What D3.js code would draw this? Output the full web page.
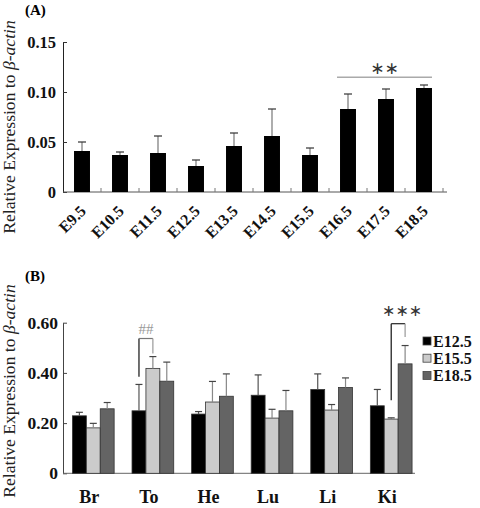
<!DOCTYPE html>
<html><head><meta charset="utf-8">
<script src="https://cdn.jsdelivr.net/npm/d3@7"></script>
<style>
body{margin:0;background:#fff;}
svg{display:block;font-family:"Liberation Serif","Times New Roman",serif;}
</style></head>
<body>
<svg id="c" width="480" height="508"></svg>
<script>
// ---------- Panel A data ----------
const stagesA = ["E9.5","E10.5","E11.5","E12.5","E13.5","E14.5","E15.5","E16.5","E17.5","E18.5"];
const valuesA = [0.041,0.037,0.039,0.026,0.046,0.056,0.037,0.083,0.093,0.104];
const errorsA = [0.009,0.003,0.017,0.006,0.013,0.027,0.007,0.015,0.010,0.003];
const ticksA = [0,0.05,0.10,0.15];
const tickLabelsA = ["0","0.05","0.10","0.15"];
const sigA = {from:"E16.5", to:"E18.5", level:0.1147, label:"\u2217\u2217"};

// ---------- Panel B data ----------
const tissuesB = ["Br","To","He","Lu","Li","Ki"];
const seriesB = ["E12.5","E15.5","E18.5"];
const valuesE125 = [0.229,0.249,0.236,0.311,0.334,0.269];
const errorsE125 = [0.014,0.105,0.010,0.081,0.062,0.065];
const valuesE155 = [0.181,0.418,0.284,0.220,0.252,0.216];
const errorsE155 = [0.018,0.047,0.082,0.035,0.022,0.005];
const valuesE185 = [0.257,0.367,0.307,0.249,0.342,0.436];
const errorsE185 = [0.025,0.076,0.089,0.081,0.038,0.073];
const ticksB = [0,0.2,0.4,0.6];
const tickLabelsB = ["0","0.20","0.40","0.60"];
const bracketsB = [
  {group:"To", left:"E12.5", right:"E15.5", top:0.537, leftEnd:0.385, rightEnd:0.477, label:"##"},
  {group:"Ki", left:"E15.5", right:"E18.5", top:0.596, leftEnd:0.291, rightEnd:0.543, label:"\u2217\u2217\u2217"}
];

const colors = {"E12.5":"#000000","E15.5":"#cbcbcb","E18.5":"#646464"};
const svg = d3.select("#c");

function yTitle(g, cx, cy){
  const t = g.append("text").attr("transform",`translate(${cx},${cy}) rotate(-90)`)
    .attr("text-anchor","middle").attr("font-size",17.6).attr("fill","#222");
  t.append("tspan").text("Relative Expression to ");
  t.append("tspan").attr("font-style","italic").text("\u03b2-actin");
}

// ================= Panel A =================
{
  const x = d3.scaleBand().domain(stagesA).range([63,443]).paddingInner(0.58).paddingOuter(0.29);
  const y = d3.scaleLinear().domain([0,0.15]).range([192,42]);
  const g = svg.append("g");

  g.append("text").attr("x",25).attr("y",15).attr("font-size",15).attr("font-weight","bold").text("(A)");
  yTitle(g, 15, 127);

  // y axis
  const ya = d3.axisLeft(y).tickValues(ticksA).tickFormat((d,i)=>tickLabelsA[i]).tickSizeInner(-4).tickSizeOuter(0).tickPadding(7);
  const yg = g.append("g").attr("transform","translate(63,0)").call(ya);
  yg.select(".domain").attr("stroke","#222");
  yg.selectAll(".tick line").attr("stroke","#333");
  yg.selectAll("text").attr("font-size",16.5).attr("font-weight","bold").attr("font-family","Liberation Serif").attr("fill","#111");

  // x axis
  const xa = d3.axisBottom(x).tickSize(0).tickFormat("");
  const xg = g.append("g").attr("transform","translate(0,192)").call(xa);
  xg.select(".domain").attr("d","M63,0H447").attr("stroke","#555");
  const step = x.step(), gap = (step - x.bandwidth())/2;
  g.selectAll(".btick").data(stagesA).join("line")
    .attr("x1",d=>x(d)-gap+step).attr("x2",d=>x(d)-gap+step)
    .attr("y1",192).attr("y2",188).attr("stroke","#777");
  g.selectAll(".xl").data(stagesA).join("text")
    .attr("transform",d=>`translate(${x(d)+x.bandwidth()/2+5},212) rotate(-45)`)
    .attr("text-anchor","end").attr("font-size",16).attr("font-weight","bold").attr("fill","#111")
    .text(d=>d);

  // bars
  g.selectAll(".bar").data(stagesA).join("rect")
    .attr("x",d=>x(d)).attr("width",x.bandwidth())
    .attr("y",(d,i)=>y(valuesA[i])).attr("height",(d,i)=>192-y(valuesA[i])).attr("fill","#000");
  // error bars
  const cx = d=>x(d)+x.bandwidth()/2;
  g.selectAll(".el").data(stagesA).join("line")
    .attr("x1",cx).attr("x2",cx).attr("y1",(d,i)=>y(valuesA[i])).attr("y2",(d,i)=>y(valuesA[i]+errorsA[i]))
    .attr("stroke","#777").attr("stroke-width",1.2);
  g.selectAll(".ec").data(stagesA).join("line")
    .attr("x1",d=>cx(d)-4).attr("x2",d=>cx(d)+4).attr("y1",(d,i)=>y(valuesA[i]+errorsA[i])).attr("y2",(d,i)=>y(valuesA[i]+errorsA[i]))
    .attr("stroke","#333").attr("stroke-width",1.2);

  // significance
  const sx1 = x(sigA.from)-3, sx2 = x(sigA.to)+x.bandwidth();
  g.append("line").attr("x1",sx1).attr("x2",sx2).attr("y1",y(sigA.level)).attr("y2",y(sigA.level))
    .attr("stroke","#aaa").attr("stroke-width",1.5);
  g.append("text").attr("x",(sx1+sx2)/2).attr("y",y(sigA.level)-3).attr("text-anchor","middle")
    .attr("font-family","DejaVu Sans").attr("font-size",17).attr("fill","#333").text(sigA.label);
}

// ================= Panel B =================
{
  const x0 = d3.scaleBand().domain(tissuesB).range([63.5,421]).paddingInner(0.3).paddingOuter(0.15);
  const x1 = d3.scaleBand().domain(seriesB).range([0,x0.bandwidth()]);
  const y = d3.scaleLinear().domain([0,0.6]).range([473.3,322.7]);
  const g = svg.append("g");
  const vals = {"E12.5":valuesE125,"E15.5":valuesE155,"E18.5":valuesE185};
  const errs = {"E12.5":errorsE125,"E15.5":errorsE155,"E18.5":errorsE185};

  g.append("text").attr("x",25).attr("y",281).attr("font-size",15).attr("font-weight","bold").text("(B)");
  yTitle(g, 15, 391);

  const ya = d3.axisLeft(y).tickValues(ticksB).tickFormat((d,i)=>tickLabelsB[i]).tickSizeInner(-4).tickSizeOuter(0).tickPadding(5);
  const yg = g.append("g").attr("transform","translate(63,0)").call(ya);
  yg.select(".domain").attr("stroke","#444");
  yg.selectAll(".tick line").attr("stroke","#444");
  yg.selectAll("text").attr("font-size",17.5).attr("font-weight","bold").attr("font-family","Liberation Serif").attr("fill","#111");

  const xa = d3.axisBottom(x0).tickSize(0).tickPadding(17);
  const xg = g.append("g").attr("transform","translate(0,473.3)").call(xa);
  xg.select(".domain").attr("d","M63,0H415").attr("stroke","#666");
  xg.selectAll("text").attr("font-size",18).attr("font-weight","bold").attr("font-family","Liberation Serif").attr("fill","#111")
    .attr("dx",-4);

  // bars
  const flat = [];
  tissuesB.forEach((t,ti)=>seriesB.forEach(s=>flat.push({t,s,v:vals[s][ti],e:errs[s][ti]})));
  const bx = d=>x0(d.t)+x1(d.s);
  g.selectAll(".bar").data(flat).join("rect")
    .attr("x",bx).attr("width",x1.bandwidth())
    .attr("y",d=>y(d.v)).attr("height",d=>473.3-y(d.v))
    .attr("fill",d=>colors[d.s]).attr("stroke","#333").attr("stroke-width",0.8);
  const bc = d=>bx(d)+x1.bandwidth()/2;
  g.selectAll(".el").data(flat).join("line")
    .attr("x1",bc).attr("x2",bc).attr("y1",d=>y(d.v)).attr("y2",d=>y(d.v+d.e))
    .attr("stroke",d=>d.s==="E12.5"?"#555":"#888").attr("stroke-width",1.2);
  g.selectAll(".ec").data(flat).join("line")
    .attr("x1",d=>bc(d)-3.5).attr("x2",d=>bc(d)+3.5).attr("y1",d=>y(d.v+d.e)).attr("y2",d=>y(d.v+d.e))
    .attr("stroke","#444").attr("stroke-width",1.2);

  // brackets
  bracketsB.forEach(b=>{
    const lx = x0(b.group)+x1(b.left)+x1.bandwidth()/2;
    const rx = x0(b.group)+x1(b.right)+x1.bandwidth()/2;
    g.append("line").attr("x1",lx).attr("x2",lx).attr("y1",y(b.leftEnd)).attr("y2",y(b.top)).attr("stroke","#111").attr("stroke-width",1.2);
    g.append("line").attr("x1",lx).attr("x2",rx).attr("y1",y(b.top)).attr("y2",y(b.top)).attr("stroke",b.group==="Ki"?"#222":"#777").attr("stroke-width",1.2);
    g.append("line").attr("x1",rx).attr("x2",rx).attr("y1",y(b.top)).attr("y2",y(b.rightEnd)).attr("stroke","#999").attr("stroke-width",1.2);
    const isHash = b.label==="##";
    g.append("text").attr("x",(lx+rx)/2+ (isHash?0:4)).attr("y",y(b.top)-(isHash?5:8)).attr("text-anchor","middle")
      .attr("font-family",isHash?"Liberation Serif":"DejaVu Sans").attr("font-size",isHash?15:16)
      .attr("fill",isHash?"#999":"#333").text(b.label);
  });

  // legend
  const lg = g.append("g");
  seriesB.forEach((s,i)=>{
    const yy = 341 + i*17.2;
    lg.append("rect").attr("x",423).attr("y",yy-4).attr("width",8).attr("height",8)
      .attr("fill",colors[s]).attr("stroke","#444").attr("stroke-width",0.8);
    lg.append("text").attr("x",433).attr("y",yy).attr("dy","0.35em").attr("font-size",16)
      .attr("font-weight","bold").attr("fill","#111").text(s);
  });
}
</script>
</body></html>
